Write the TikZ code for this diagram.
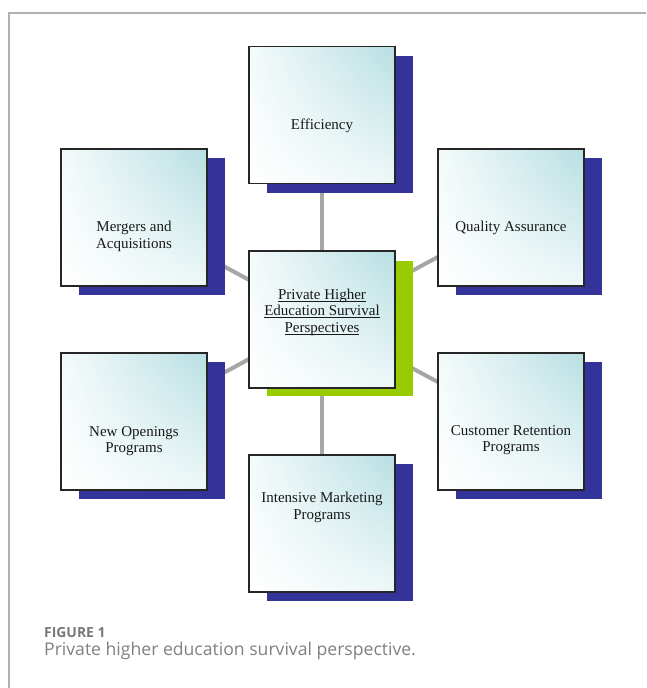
\documentclass[tikz,border=0pt]{standalone}
\usepackage{fontspec}
\setmainfont{Liberation Serif}
\newfontfamily\capfont{Open Sans}
\usetikzlibrary{shadings}
\definecolor{tealc}{RGB}{183,223,226}
\definecolor{shblue}{RGB}{51,51,153}
\definecolor{shgreen}{RGB}{153,204,0}
\definecolor{linkgray}{RGB}{166,166,166}
\definecolor{framegray}{RGB}{176,176,176}
\definecolor{capgray}{RGB}{120,120,120}
\definecolor{capgray2}{RGB}{128,128,128}
\newcommand{\myul}[1]{\setbox0\hbox{#1}\rlap{\rule[-2.2pt]{\wd0}{0.7pt}}\box0}
\begin{document}
\begin{tikzpicture}[x=1pt,y=-1pt,
  boxnode/.style={draw=black!85,line width=1.1pt,minimum width=146pt,minimum height=137pt,inner sep=0pt,
    lower left=white,upper left=tealc!15!white,lower right=tealc!25!white,upper right=tealc},
  boxtext/.style={align=center,font=\fontsize{15}{16.5}\selectfont,text=black!90,inner sep=0pt},
  link/.style={draw=linkgray,line width=4pt},
  frameline/.style={draw=framegray,line width=1.2pt}]
\useasboundingbox (0,0) rectangle (646,688);
\path[fill=white] (0,0) rectangle (646,688);
% frame
\coordinate (fa) at (9,688);
\coordinate (fb) at (9,13);
\coordinate (fc) at (646,13);
\draw[frameline] (fa) -- (fb) -- (fc);
% centers
\coordinate (cC) at (322,319.5);
\coordinate (cE) at (322,115);
\coordinate (cM) at (134,217.5);
\coordinate (cQ) at (511,217.5);
\coordinate (cN) at (134,421.5);
\coordinate (cR) at (511,421.5);
\coordinate (cI) at (322,523.5);
% links
\draw[link] (cC) -- (cE);
\draw[link] (cC) -- (cM);
\draw[link] (cC) -- (cQ);
\draw[link] (cC) -- (cN);
\draw[link] (cC) -- (cR);
\draw[link] (cC) -- (cI);
% shadows
\foreach \c in {cE,cM,cQ,cN,cR,cI}{
  \fill[shblue] ([shift={(-55,-59.5)}]\c) rectangle ([shift={(91,77.5)}]\c);
}
\fill[shgreen] ([shift={(-55,-58.5)}]cC) rectangle ([shift={(91,76.5)}]cC);
% boxes
\node[boxnode] (C) at (cC) {};
\node[boxnode] (E) at (cE) {};
\node[boxnode] (M) at (cM) {};
\node[boxnode] (Q) at (cQ) {};
\node[boxnode] (N) at (cN) {};
\node[boxnode] (R) at (cR) {};
\node[boxnode] (I) at (cI) {};
% texts
\node[boxtext] (Ct) at (322,312) {\myul{Private Higher}\\\myul{Education Survival}\\\myul{Perspectives}};
\node[boxtext] (Et) at (322,126) {Efficiency};
\node[boxtext] (Mt) at (134,236.5) {Mergers and\\Acquisitions};
\node[boxtext] (Qt) at (511,228) {Quality Assurance};
\node[boxtext] (Nt) at (134,441) {New Openings\\Programs};
\node[boxtext] (Rt) at (511,440) {Customer Retention\\Programs};
\node[boxtext] (It) at (322,507.5) {Intensive Marketing\\Programs};
% caption
\node[anchor=base west,inner sep=0pt,text=capgray,font=\capfont\bfseries\fontsize{13.9}{15}\selectfont] (fig) at (44,637) {FIGURE 1};
\node[anchor=base west,inner sep=0pt,text=capgray2,font=\capfont\fontsize{17.6}{20}\selectfont] (cap) at (44,655) {Private higher education survival perspective.};
\end{tikzpicture}
\end{document}
